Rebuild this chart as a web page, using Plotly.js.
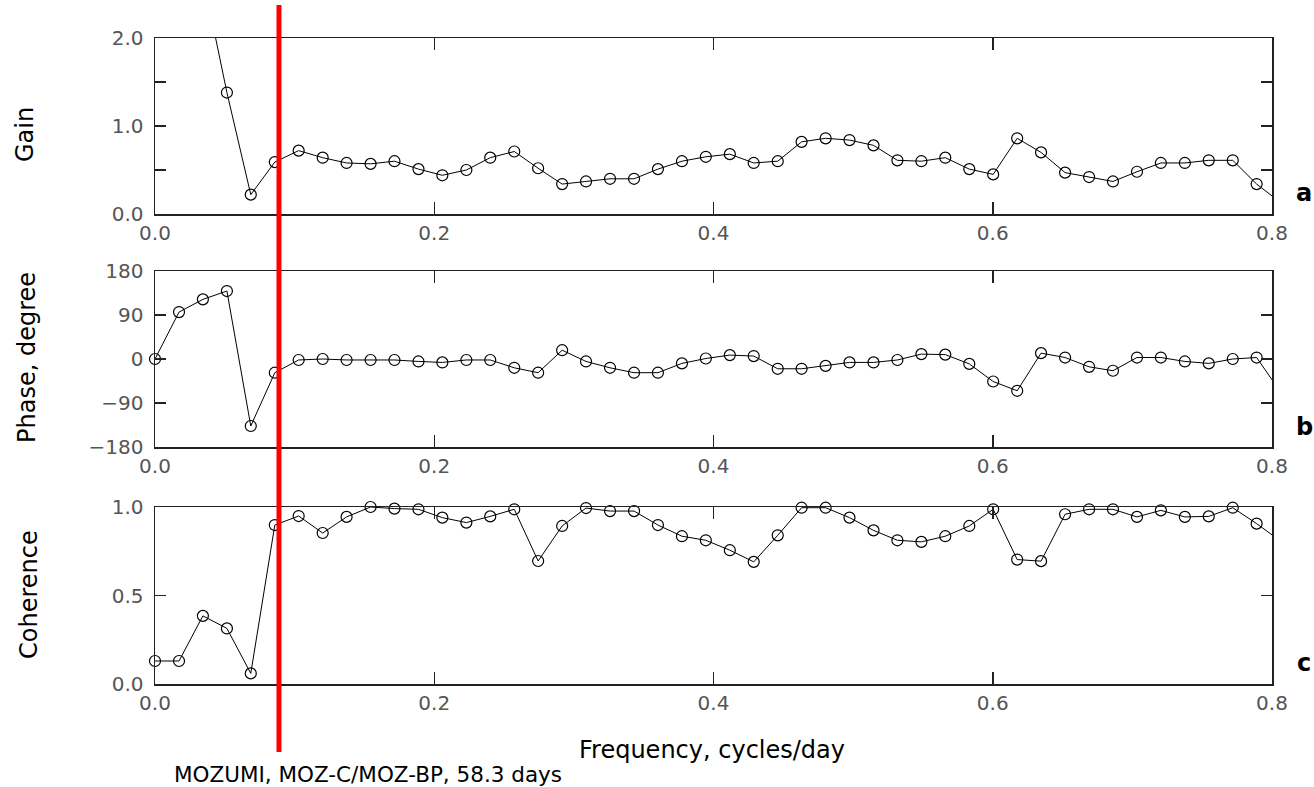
<!DOCTYPE html>
<html>
<head>
<meta charset="utf-8">
<script src="https://cdn.plot.ly/plotly-3.0.1.min.js"></script>
<style>html,body{margin:0;padding:0;background:#fff;}#chart{width:1314px;height:787px;}</style>
</head>
<body>
<div id="chart"></div>
<script>
// Frequency (cycles/day), spacing 1/58.3 days
const freq = [0, 0.0172, 0.0343, 0.0515, 0.0686, 0.0858, 0.1029, 0.1201, 0.1372, 0.1544,
  0.1715, 0.1887, 0.2058, 0.2230, 0.2401, 0.2573, 0.2744, 0.2916, 0.3087, 0.3259,
  0.3431, 0.3602, 0.3774, 0.3945, 0.4117, 0.4288, 0.4460, 0.4631, 0.4803, 0.4974,
  0.5146, 0.5317, 0.5489, 0.5660, 0.5832, 0.6003, 0.6175, 0.6346, 0.6518, 0.6690,
  0.6861, 0.7033, 0.7204, 0.7376, 0.7547, 0.7719, 0.7890, 0.8062];

const gain = [3.0, 3.3, 2.7, 1.38, 0.22, 0.59, 0.72, 0.64, 0.58, 0.57,
  0.60, 0.51, 0.44, 0.50, 0.64, 0.71, 0.52, 0.34, 0.37, 0.40,
  0.40, 0.51, 0.60, 0.65, 0.68, 0.58, 0.60, 0.82, 0.86, 0.84,
  0.78, 0.61, 0.60, 0.64, 0.51, 0.45, 0.86, 0.70, 0.47, 0.42,
  0.37, 0.48, 0.58, 0.58, 0.61, 0.61, 0.34, 0.13];

const phase = [0, 96, 122, 139, -137, -28, -2, 0, -2, -2,
  -2, -5, -7, -2, -2, -18, -28, 18, -5, -18,
  -28, -28, -9, 1, 8, 6, -20, -20, -14, -7,
  -7, -2, 10, 9, -10, -46, -65, 12, 3, -16,
  -24, 3, 3, -5, -9, 0, 3, -68];

const coherence = [0.13, 0.13, 0.385, 0.314, 0.06, 0.898, 0.949, 0.853, 0.944, 1.0,
  0.991, 0.987, 0.940, 0.912, 0.947, 0.987, 0.695, 0.893, 0.994, 0.977,
  0.977, 0.898, 0.835, 0.812, 0.756, 0.690, 0.840, 0.996, 0.996, 0.940,
  0.868, 0.812, 0.803, 0.835, 0.893, 0.987, 0.703, 0.694, 0.959, 0.987,
  0.987, 0.944, 0.981, 0.944, 0.947, 0.996, 0.906, 0.807];

const redLineFreq = 0.0888;
const xTicks = [0, 0.2, 0.4, 0.6, 0.8];
const xTickText = ['0.0', '0.2', '0.4', '0.6', '0.8'];
const gainTicks = [0, 0.5, 1, 1.5, 2];
const gainTickText = ['0.0', '', '1.0', '', '2.0'];
const phaseTicks = [-180, -90, 0, 90, 180];
const phaseTickText = ['\u2212180', '\u221290', '0', '90', '180'];
const cohTicks = [0, 0.5, 1];
const cohTickText = ['0.0', '0.5', '1.0'];

const XMAX = 0.8;
const tickFont = {family: 'DejaVu Sans', size: 20, color: '#555'};
const titleFont = {family: 'DejaVu Sans', size: 24, color: '#000'};

function panel(yvals, xa, ya, ymin, ymax) {
  const mx = [], my = [];
  for (let i = 0; i < freq.length; i++) {
    if (freq[i] <= XMAX && yvals[i] <= ymax && yvals[i] >= ymin) { mx.push(freq[i]); my.push(yvals[i]); }
  }
  return [
    {x: freq, y: yvals, xaxis: xa, yaxis: ya, mode: 'lines', type: 'scatter',
     line: {color: '#000', width: 1}, cliponaxis: true, hoverinfo: 'skip'},
    {x: mx, y: my, xaxis: xa, yaxis: ya, mode: 'markers', type: 'scatter',
     marker: {symbol: 'circle-open', size: 11, color: '#000', line: {width: 1.2, color: '#000'}},
     cliponaxis: false}
  ];
}

const data = [].concat(
  panel(gain, 'x', 'y', 0, 2),
  panel(phase, 'x2', 'y2', -180, 180),
  panel(coherence, 'x3', 'y3', 0, 1)
);

function xax(anchor) {
  return {anchor: anchor, domain: [0, 1], range: [0, XMAX], tickvals: xTicks, ticktext: xTickText,
    ticks: 'inside', ticklen: 12, tickwidth: 1.5, tickcolor: '#222', showline: true, linecolor: '#222',
    linewidth: 1.5, mirror: 'ticks', showgrid: false, zeroline: false, tickfont: tickFont, fixedrange: true};
}
function yax(anchor, domain, range, tv, tt) {
  return {anchor: anchor, domain: domain, range: range, tickvals: tv, ticktext: tt,
    ticks: 'inside', ticklen: 11, tickwidth: 1.5, tickcolor: '#222', showline: true, linecolor: '#222',
    linewidth: 1.5, mirror: 'ticks', showgrid: false, zeroline: false, tickfont: tickFont,
    ticklabelstandoff: 6, fixedrange: true};
}

const L = 155, R = 1272, T = 38, B = 684;
const W = R - L, H = B - T;
function px(x) { return (x - L) / W; }
function py(y) { return (B - y) / H; }

const layout = {
  width: 1314, height: 787,
  margin: {l: L, r: 1314 - R, t: T, b: 787 - B},
  paper_bgcolor: '#fff', plot_bgcolor: '#fff',
  showlegend: false,
  xaxis: xax('y'),
  yaxis: yax('x', [py(214), 1], [0, 2], gainTicks, gainTickText),
  xaxis2: xax('y2'),
  yaxis2: yax('x2', [py(447), py(271)], [-180, 180], phaseTicks, phaseTickText),
  xaxis3: xax('y3'),
  yaxis3: yax('x3', [0, py(507)], [0, 1], cohTicks, cohTickText),
  shapes: [
    {type: 'line', xref: 'x', yref: 'paper', x0: redLineFreq, x1: redLineFreq,
     y0: py(752), y1: py(5), line: {color: '#ff0000', width: 5}, layer: 'above'}
  ],
  annotations: [
    {text: 'Gain', xref: 'paper', yref: 'paper', x: px(25), y: py(135), textangle: -90,
     showarrow: false, xanchor: 'center', yanchor: 'middle', font: titleFont},
    {text: 'Phase, degree', xref: 'paper', yref: 'paper', x: px(27), y: py(358), textangle: -90,
     showarrow: false, xanchor: 'center', yanchor: 'middle', font: titleFont},
    {text: 'Coherence', xref: 'paper', yref: 'paper', x: px(29), y: py(595), textangle: -90,
     showarrow: false, xanchor: 'center', yanchor: 'middle', font: titleFont},
    {text: 'Frequency, cycles/day', xref: 'paper', yref: 'paper', x: px(712), y: py(750),
     showarrow: false, xanchor: 'center', yanchor: 'middle', font: titleFont},
    {text: 'MOZUMI, MOZ-C/MOZ-BP, 58.3 days', xref: 'paper', yref: 'paper', x: px(368), y: py(774),
     showarrow: false, xanchor: 'center', yanchor: 'middle',
     font: {family: 'DejaVu Sans', size: 21.5, color: '#000'}},
    {text: '<b>a</b>', xref: 'paper', yref: 'paper', x: px(1304), y: py(193),
     showarrow: false, xanchor: 'center', yanchor: 'middle', font: {family: 'DejaVu Sans', size: 24, color: '#000'}},
    {text: '<b>b</b>', xref: 'paper', yref: 'paper', x: px(1304), y: py(427),
     showarrow: false, xanchor: 'center', yanchor: 'middle', font: {family: 'DejaVu Sans', size: 24, color: '#000'}},
    {text: '<b>c</b>', xref: 'paper', yref: 'paper', x: px(1304), y: py(663),
     showarrow: false, xanchor: 'center', yanchor: 'middle', font: {family: 'DejaVu Sans', size: 24, color: '#000'}}
  ]
};

Plotly.newPlot('chart', data, layout, {displayModeBar: false, staticPlot: true});
</script>
</body>
</html>
